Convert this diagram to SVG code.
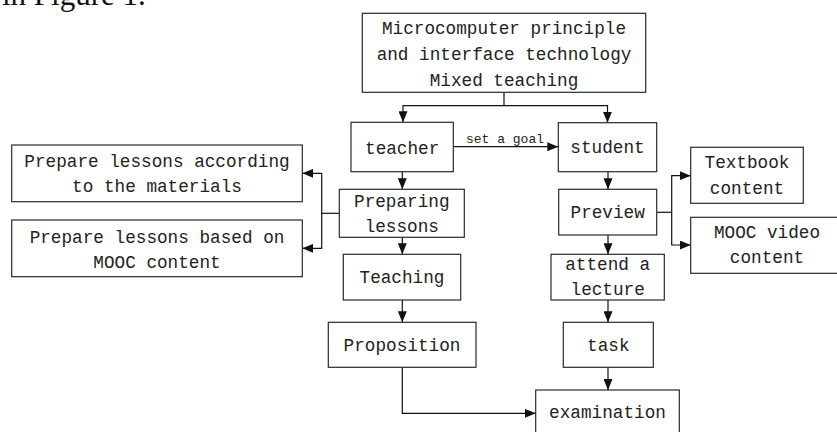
<svg xmlns="http://www.w3.org/2000/svg" width="837" height="432" viewBox="0 0 837 432">
<defs>
<marker id="arr" markerUnits="userSpaceOnUse" markerWidth="12" markerHeight="9" refX="11" refY="4.5" orient="auto">
<path d="M0,0 L11,4.5 L0,9 Z" fill="#111"/>
</marker>
<style>
.box{fill:#fff;stroke:#2a2a2a;stroke-width:1.2}
.t{font-family:"Liberation Mono","DejaVu Sans Mono",monospace;font-size:17.7px;fill:#222;text-anchor:middle}
.s{font-family:"Liberation Mono","DejaVu Sans Mono",monospace;font-size:13px;fill:#222;text-anchor:middle}
.c{fill:none;stroke:#111;stroke-width:1.2}
.a{marker-end:url(#arr)}
</style>
</defs>
<rect width="837" height="432" fill="#fff"/>
<text x="2" y="5" font-family="Liberation Serif,serif" font-size="31" fill="#111">in Figure 1.</text>

<g id="connectors">
<path class="c" d="M504,92.3 V105.7"/>
<path class="c a" d="M504,105.7 H403 V122.3"/>
<path class="c a" d="M504,105.7 H607.5 V122.7"/>
<path class="c a" d="M453.3,146.7 H558.3"/>
<path class="c a" d="M402.3,171.7 V189.3"/>
<path class="c" d="M339.3,213.3 H321.7"/>
<path class="c a" d="M321.7,213.3 V173.3 H302.3"/>
<path class="c a" d="M321.7,213.3 V248.3 H302.3"/>
<path class="c a" d="M402.3,237.3 V254.3"/>
<path class="c a" d="M402.3,300 V322.3"/>
<path class="c a" d="M402.3,367.3 V413.3 H535.7"/>
<path class="c a" d="M608,171.7 V189.3"/>
<path class="c" d="M656.7,212.3 H671.7"/>
<path class="c a" d="M671.7,212.3 V175.7 H690.7"/>
<path class="c a" d="M671.7,212.3 V245 H690.7"/>
<path class="c a" d="M608,235 V254.3"/>
<path class="c a" d="M608,300 V322.3"/>
<path class="c a" d="M608,367.3 V390"/>
<text class="s" x="505" y="142.5">set a goal</text>
</g>

<g id="top">
<rect class="box" x="362.3" y="13.3" width="283.4" height="79"/>
<text class="t" x="504" y="34.3">Microcomputer principle</text>
<text class="t" x="504" y="60">and interface technology</text>
<text class="t" x="504" y="85.7">Mixed teaching</text>
</g>
<g id="teacher">
<rect class="box" x="351" y="122.3" width="102.3" height="49.4"/>
<text class="t" x="402.2" y="154">teacher</text>
</g>
<g id="student">
<rect class="box" x="558.3" y="122.7" width="98.4" height="49"/>
<text class="t" x="607.5" y="153.3">student</text>
</g>
<g id="prep-materials">
<rect class="box" x="11.7" y="145" width="290.6" height="56.7"/>
<text class="t" x="157" y="167.3">Prepare lessons according</text>
<text class="t" x="157" y="192.3">to the materials</text>
</g>
<g id="prep-mooc">
<rect class="box" x="11.7" y="220" width="290.6" height="56.7"/>
<text class="t" x="157" y="243.3">Prepare lessons based on</text>
<text class="t" x="157" y="267.7">MOOC content</text>
</g>
<g id="preparing">
<rect class="box" x="339.3" y="189.3" width="125" height="48"/>
<text class="t" x="401.8" y="207.3">Preparing</text>
<text class="t" x="401.8" y="231.7">lessons</text>
</g>
<g id="teaching">
<rect class="box" x="343.3" y="254.3" width="117.4" height="45.7"/>
<text class="t" x="402" y="283.3">Teaching</text>
</g>
<g id="proposition">
<rect class="box" x="328.3" y="322.3" width="147.7" height="45"/>
<text class="t" x="402" y="350.7">Proposition</text>
</g>
<g id="preview">
<rect class="box" x="558.7" y="189.3" width="98" height="45.7"/>
<text class="t" x="607.7" y="218.3">Preview</text>
</g>
<g id="textbook">
<rect class="box" x="690.7" y="147.3" width="112.6" height="56"/>
<text class="t" x="747" y="168.3">Textbook</text>
<text class="t" x="747" y="194">content</text>
</g>
<g id="mooc-video">
<rect class="box" x="690.7" y="217.3" width="152" height="56"/>
<text class="t" x="767" y="238.3">MOOC video</text>
<text class="t" x="767" y="263.3">content</text>
</g>
<g id="lecture">
<rect class="box" x="551" y="254.3" width="113.3" height="45.7"/>
<text class="t" x="607.7" y="270">attend a</text>
<text class="t" x="607.7" y="295">lecture</text>
</g>
<g id="task">
<rect class="box" x="563.3" y="322.3" width="90" height="45"/>
<text class="t" x="608.3" y="350.7">task</text>
</g>
<g id="examination">
<rect class="box" x="535.7" y="390" width="143.6" height="50"/>
<text class="t" x="607.5" y="418.3">examination</text>
</g>
</svg>
